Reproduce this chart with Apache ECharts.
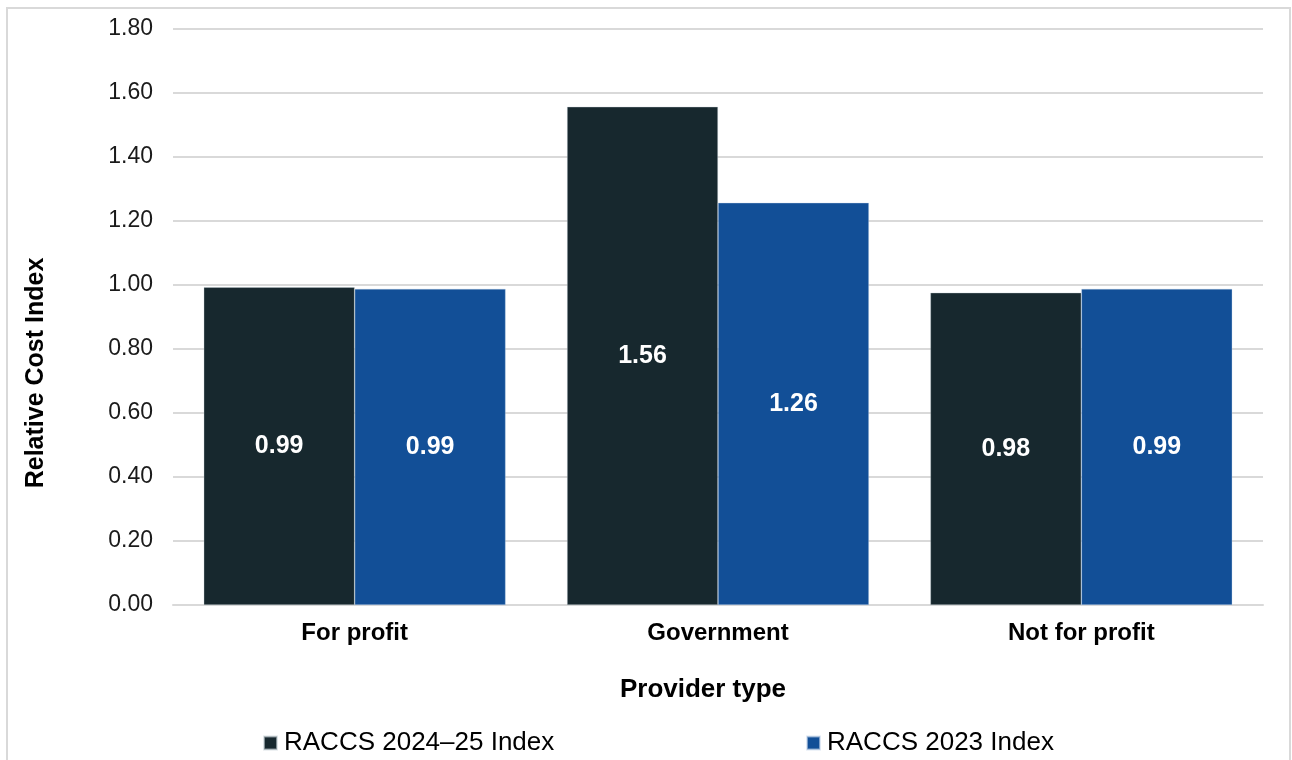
<!DOCTYPE html>
<html>
<head>
<meta charset="utf-8">
<script src="https://cdn.jsdelivr.net/npm/echarts@6/dist/echarts.min.js"></script>
<style>
html,body{margin:0;padding:0;background:#fff;}
#chart{width:1292px;height:760px;}
</style>
</head>
<body>
<div id="chart"></div>
<script>
const categories = ['For profit', 'Government', 'Not for profit'];
const series2024 = [0.993, 1.557, 0.976];
const series2023 = [0.988, 1.257, 0.988];
const seriesNames = ['RACCS 2024–25 Index', 'RACCS 2023 Index'];
const yTicks = { min: 0, max: 1.8, interval: 0.2 };
const yAxisTitle = 'Relative Cost Index';
const xAxisTitle = 'Provider type';

const FONT = '"Liberation Sans", Arial, sans-serif';
const chart = echarts.init(document.getElementById('chart'), null, { renderer: 'canvas' });

const labelStyle = {
  show: true,
  position: 'inside',
  color: '#ffffff',
  fontFamily: FONT,
  fontWeight: 'bold',
  fontSize: 25,
  formatter: p => p.value.toFixed(2)
};

const legendCommon = {
  top: 729,
  padding: 0,
  itemWidth: 13, itemHeight: 13, itemGap: 6,
  icon: 'rect',
  textStyle: { fontFamily: FONT, fontSize: 26, color: '#000', lineHeight: 28, padding: [0, 0, 0, 2] }
};

chart.setOption({
  animation: false,
  backgroundColor: '#ffffff',
  textStyle: { fontFamily: FONT },
  graphic: [{
    type: 'rect',
    silent: true,
    z: -10,
    shape: { x: 7, y: 8, width: 1283, height: 800 },
    style: { fill: 'none', stroke: '#d9d9d9', lineWidth: 2 }
  }],
  grid: { left: 173, right: 29, top: 29, bottom: 155, containLabel: false },
  legend: [
    Object.assign({ data: [seriesNames[0]], left: 263 }, legendCommon),
    Object.assign({ data: [seriesNames[1]], left: 806 }, legendCommon)
  ],
  xAxis: {
    type: 'category',
    data: categories,
    name: xAxisTitle,
    nameLocation: 'middle',
    nameGap: 72,
    nameTextStyle: { fontFamily: FONT, fontWeight: 'bold', fontSize: 26, color: '#000', padding: [0, 30, 0, 0] },
    axisLine: { lineStyle: { color: '#d9d9d9', width: 2 } },
    axisTick: { show: false },
    axisLabel: { fontFamily: FONT, fontWeight: 'bold', fontSize: 24, color: '#000', margin: 16 }
  },
  yAxis: {
    type: 'value',
    min: yTicks.min, max: yTicks.max, interval: yTicks.interval,
    name: yAxisTitle,
    nameLocation: 'middle',
    nameGap: 124,
    nameRotate: 90,
    nameTextStyle: { fontFamily: FONT, fontWeight: 'bold', fontSize: 25, color: '#000', padding: [0, 112, 0, 0] },
    axisLine: { show: false },
    axisTick: { show: false },
    axisLabel: { fontFamily: FONT, fontSize: 23, color: '#1a1a1a', margin: 20, formatter: v => v.toFixed(2) },
    splitLine: { lineStyle: { color: '#d9d9d9', width: 2 } }
  },
  series: [{
    name: seriesNames[0],
    type: 'bar',
    data: series2024,
    barGap: '0%',
    barCategoryGap: '16.9%',
    itemStyle: { color: '#17282e', borderColor: 'rgba(200,210,215,0.6)', borderWidth: 0.6 },
    label: labelStyle
  }, {
    name: seriesNames[1],
    type: 'bar',
    data: series2023,
    barGap: '0%',
    barCategoryGap: '16.9%',
    itemStyle: { color: '#124f97', borderColor: 'rgba(200,215,235,0.6)', borderWidth: 0.6 },
    label: labelStyle
  }]
});
</script>
</body>
</html>
